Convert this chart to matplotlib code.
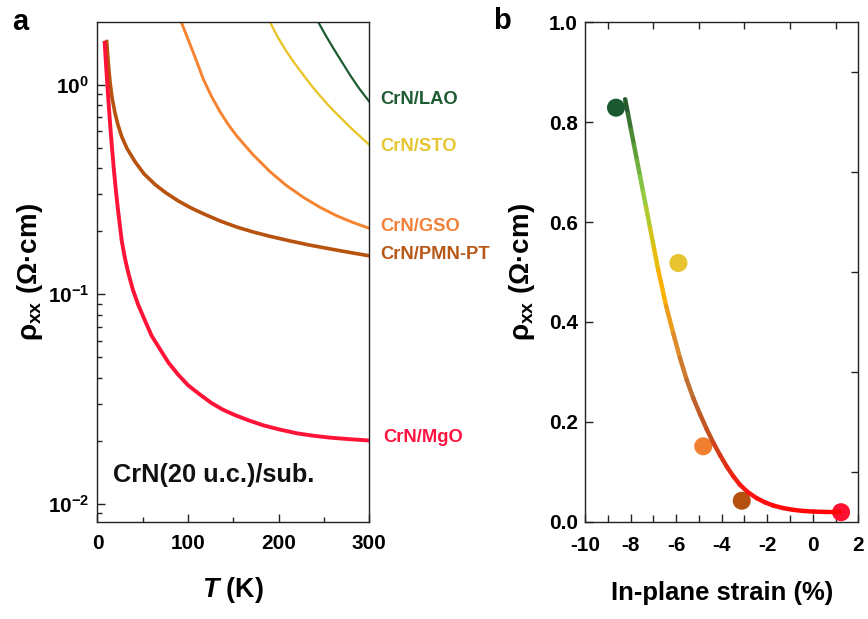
import matplotlib
matplotlib.use("Agg")
import matplotlib.pyplot as plt
from matplotlib import font_manager as fm
from matplotlib.collections import LineCollection
from matplotlib.colors import LinearSegmentedColormap
from matplotlib.ticker import LogLocator, NullFormatter, FixedLocator
import numpy as np

# ---------------- data: panel a (rho_xx vs T) ----------------
T_mgo = [7.95, 9.38, 11.59, 13.80, 16.00, 18.21, 20.42, 22.63, 24.83, 26.71, 30.35, 34.00,
         39.18, 45.03, 51.88, 59.82, 68.98, 78.15, 88.85, 100.2, 113.1, 126.05, 138.5, 151.8,
         167.2, 183.0, 201.4, 219.9, 237.9, 256.6, 278.7, 300]
rho_mgo = [1.587, 1.260, 0.902, 0.663, 0.501, 0.389, 0.310, 0.2533, 0.2115, 0.1807, 0.1483,
           0.1264, 0.1048, 0.0889, 0.0758, 0.0633, 0.0547, 0.0473, 0.0414, 0.0367, 0.0332,
           0.0302, 0.0281, 0.02647, 0.02496, 0.02366, 0.02258, 0.02168, 0.02111, 0.02067,
           0.02031, 0.02002]

T_pmn = [10.15, 11.92, 13.80, 16.00, 19.32, 22.63, 26.71, 32.56, 41.39, 51.32, 63.47, 75.61,
         89.18, 103.2, 118.7, 135.2, 153.6, 171.6, 190.4, 212.5, 234.5, 267.7, 300]
rho_pmn = [1.610, 1.274, 1.037, 0.872, 0.735, 0.644, 0.567, 0.497, 0.430, 0.376, 0.3346,
           0.3048, 0.2791, 0.2584, 0.2405, 0.2240, 0.2095, 0.1985, 0.1891, 0.1798, 0.1716,
           0.1614, 0.1526]

T_gso = [92.5, 107.6, 116.8, 126.0, 135.2, 144.4, 153.6, 171.6, 190.4, 208.1, 227.2, 245.6,
         264.0, 280.9, 300]
rho_gso = [1.993, 1.361, 1.066, 0.878, 0.745, 0.646, 0.571, 0.4645, 0.3853, 0.3317, 0.2904,
           0.2602, 0.2371, 0.2211, 0.2065]

T_sto = [190.4, 199.2, 208.8, 218.0, 227.2, 236.4, 245.6, 254.7, 264.0, 280.9, 300]
rho_sto = [1.993, 1.686, 1.439, 1.261, 1.115, 0.990, 0.887, 0.801, 0.727, 0.616, 0.5175]

T_lao = [243.7, 252.2, 260.3, 269.3, 278.7, 288.6, 300]
rho_lao = [1.993, 1.714, 1.497, 1.297, 1.116, 0.9643, 0.832]

labels_a = ["CrN/LAO", "CrN/STO", "CrN/GSO", "CrN/PMN-PT", "CrN/MgO"]

# ---------------- data: panel b (rho_xx vs strain) ----------------
strain = [-8.64, -5.90, -4.81, -3.12, 1.24]
rho_300K = [0.829, 0.518, 0.151, 0.042, 0.019]

fit_x = [-8.240, -8.112, -7.981, -7.849, -7.717, -7.586, -7.454, -7.322, -7.147, -6.971,
         -6.782, -6.444, -6.124, -5.830, -5.536, -5.246, -4.952, -4.658, -4.368, -4.074,
         -3.780, -3.490, -3.196, -2.845, -2.463, -2.098, -1.734, -1.308, -0.856, -0.430,
         0.022, 0.580, 1.194]
fit_y = [0.8459, 0.8160, 0.7850, 0.7539, 0.7228, 0.6921, 0.6610, 0.6303, 0.5888, 0.5472,
         0.5031, 0.4329, 0.3767, 0.3276, 0.2840, 0.2473, 0.2152, 0.1852, 0.1581, 0.1334,
         0.1105, 0.0909, 0.0738, 0.0588, 0.0471, 0.0387, 0.0323, 0.0273, 0.0237, 0.0215,
         0.0203, 0.0195, 0.0191]

yticks_a = [1e-2, 1e-1, 1e0]
yticklabels_a = [r"$\mathrm{10^{-2}}$", r"$\mathrm{10^{-1}}$", r"$\mathrm{10^{0}}$"]
xticks_a = [0, 100, 200, 300]
xticks_b = [-10, -8, -6, -4, -2, 0, 2]
xticklabels_b = ["-10", "-8", "-6", "-4", "-2", "0", "2"]
yticks_b = [0.0, 0.2, 0.4, 0.6, 0.8, 1.0]
yticklabels_b = ["0.0", "0.2", "0.4", "0.6", "0.8", "1.0"]

# ---------------- style ----------------
names = {f.name for f in fm.fontManager.ttflist}
HAS_NARROW = "Liberation Sans Narrow" in names
NARROW = "Liberation Sans Narrow" if HAS_NARROW else "Liberation Sans"
k = 1.0 if HAS_NARROW else 0.84

plt.rcParams["font.family"] = [NARROW, "DejaVu Sans"]
plt.rcParams["font.weight"] = "bold"
plt.rcParams["mathtext.fontset"] = "custom"
plt.rcParams["mathtext.rm"] = NARROW + ":bold"
plt.rcParams["mathtext.bf"] = "Liberation Sans:bold"
plt.rcParams["mathtext.it"] = "Liberation Sans"
plt.rcParams["mathtext.sf"] = NARROW + ":bold:italic"

c_lao, c_sto, c_gso, c_pmn, c_mgo = "#1d5c31", "#e8c52a", "#f5832f", "#b7520f", "#ff1438"
lab_cols = ["#1f5c34", "#e6c630", "#f28038", "#b85818", "#ff1440"]
mk_cols = ["#1a5a30", "#e8c430", "#f08030", "#b45010", "#ff1030"]

TICK_FS = 17.8 * k
spine_c = "#222222"

fig = plt.figure(figsize=(8.68, 6.19), dpi=100)
ax1 = fig.add_axes([0.1123, 0.1572, 0.3131, 0.8068])
ax2 = fig.add_axes([0.674, 0.1572, 0.3149, 0.8068])

for ax in (ax1, ax2):
    for s in ax.spines.values():
        s.set_linewidth(1.0)
        s.set_color(spine_c)

# ---------------- panel a ----------------
ax1.plot(T_lao, rho_lao, color=c_lao, lw=1.6)
ax1.plot(T_sto, rho_sto, color=c_sto, lw=1.7)
ax1.plot(T_gso, rho_gso, color=c_gso, lw=2.1)
ax1.plot(T_pmn, rho_pmn, color=c_pmn, lw=2.6)
ax1.plot(T_mgo, rho_mgo, color=c_mgo, lw=2.8)
ax1.set_yscale("log")
ax1.set_xlim(0, 300)
ax1.set_ylim(0.0082, 1.99)
ax1.set_xticks(xticks_a, labels=[str(v) for v in xticks_a])
ax1.xaxis.set_minor_locator(FixedLocator([50, 150, 250]))
ax1.set_yticks(yticks_a, labels=yticklabels_a)
ax1.yaxis.set_minor_locator(LogLocator(base=10, subs=np.arange(2, 10)))
ax1.yaxis.set_minor_formatter(NullFormatter())
ax1.tick_params(which="both", direction="in", color=spine_c, width=1.0,
                top=False, right=False, labelsize=TICK_FS)
ax1.tick_params(which="major", length=6)
ax1.tick_params(which="minor", length=3.5)
ax1.tick_params(axis="y", pad=6)
ax1.tick_params(axis="x", pad=9)

lab_pos = [(1.039, 0.846), (1.039, 0.752), (1.039, 0.592), (1.039, 0.535), (1.052, 0.168)]
for (x, y), t, c in zip(lab_pos, labels_a, lab_cols):
    ax1.text(x, y, t, transform=ax1.transAxes, color=c, fontsize=15.7 * k,
             fontweight="bold", ha="left", va="center", clip_on=False)

ax1.text(0.057, 0.080, "CrN(20 u.c.)/sub.", transform=ax1.transAxes, fontsize=21.8 * k,
         fontweight="bold", ha="left", va="baseline", color="#111111")

ax1.set_xlabel(r"$\mathsf{T}$ (K)", fontsize=23 * k, fontweight="bold", va="center")
ax1.xaxis.set_label_coords(0.5, -0.137)
ax1.set_ylabel(r"$\mathit{\rho}_{\mathbf{xx}}$ (Ω·cm)", fontsize=20,
               family=["Liberation Sans", "DejaVu Sans"], fontweight="bold")
ax1.yaxis.set_label_coords(-0.193, 0.5)

# ---------------- panel b ----------------
ax2.scatter(strain, rho_300K, s=13 ** 2, c=mk_cols, marker="o", edgecolors="none", zorder=2)

grad = LinearSegmentedColormap.from_list("grad", [
    (0.00, "#ff0000"), (0.06, "#ff1212"), (0.12, "#e52a14"), (0.20, "#c4501e"),
    (0.30, "#bd6a2e"), (0.42, "#e08c2c"), (0.56, "#ffb400"), (0.66, "#d8c418"),
    (0.78, "#8ccc46"), (0.88, "#5a9a38"), (1.00, "#1e4f2a")])
pts = np.column_stack([fit_x, fit_y])
segs = np.stack([pts[:-1], pts[1:]], axis=1)
mid = 0.5 * (pts[:-1, 1] + pts[1:, 1])
lc = LineCollection(segs, colors=grad(np.clip(mid / 0.85, 0, 1)), linewidths=3.2,
                    capstyle="round", joinstyle="round", zorder=3)
ax2.add_collection(lc)

ax2.set_xlim(-10, 2)
ax2.set_ylim(0, 1.0)
ax2.set_xticks(xticks_b, labels=xticklabels_b)
ax2.xaxis.set_minor_locator(FixedLocator([-9, -7, -5, -3, -1, 1]))
ax2.set_yticks(yticks_b, labels=yticklabels_b)
ax2.yaxis.set_minor_locator(FixedLocator([0.1, 0.3, 0.5, 0.7, 0.9]))
ax2.tick_params(which="both", direction="in", color=spine_c, width=1.0, labelsize=TICK_FS)
ax2.tick_params(which="major", length=6, left=True, bottom=True, right=False, top=False)
ax2.tick_params(which="minor", length=5, left=False, bottom=True, right=True, top=True)
ax2.tick_params(axis="y", pad=5)
ax2.tick_params(axis="x", pad=10)

ax2.set_xlabel("In-plane strain (%)", fontsize=22 * k, fontweight="bold", va="center")
ax2.xaxis.set_label_coords(0.5, -0.143)
ax2.set_ylabel(r"$\mathit{\rho}_{\mathbf{xx}}$ (Ω·cm)", fontsize=20,
               family=["Liberation Sans", "DejaVu Sans"], fontweight="bold")
ax2.yaxis.set_label_coords(-0.175, 0.5)

fig.text(12 / 868, 1 - 30 / 619, "a", fontsize=25 * k, fontweight="bold", ha="left", va="baseline")
fig.text(493 / 868, 1 - 29 / 619, "b", fontsize=25 * k, fontweight="bold", ha="left", va="baseline")

fig.savefig("out.png", dpi=100)
